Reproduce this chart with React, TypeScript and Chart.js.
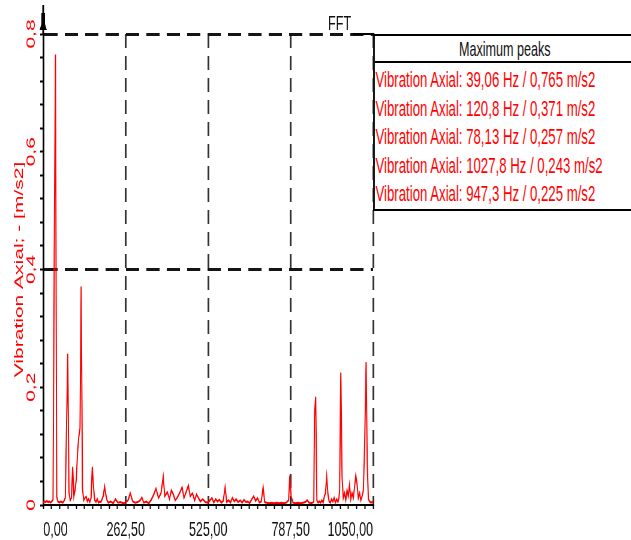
import React, { useEffect, useRef } from 'react';
import { Chart, registerables } from 'chart.js';

Chart.register(...registerables);

// ---- data (Hz, m/s2) ----
const LOW_BAND: [number, number][] = [
  [0, 0.004], [3.9, 0.006], [7.8, 0.005], [11.7, 0.007], [15.6, 0.005], [19.5, 0.006],
  [23.4, 0.004], [27.3, 0.006], [31.3, 0.009], [35.2, 0.425], [39.06, 0.765], [43.0, 0.014],
  [46.9, 0.006], [50.8, 0.004], [54.7, 0.006], [58.6, 0.005], [62.5, 0.004], [66.4, 0.007],
  [70.3, 0.012], [74.2, 0.13], [78.13, 0.257], [82.0, 0.022], [85.9, 0.008], [89.8, 0.012],
  [93.8, 0.065], [97.7, 0.015], [101.6, 0.026], [105.5, 0.045], [109.4, 0.09], [113.3, 0.116],
  [117.2, 0.13], [120.8, 0.371], [125.0, 0.028], [128.9, 0.008], [132.8, 0.012], [136.7, 0.014],
  [140.6, 0.006], [144.5, 0.01], [148.4, 0.005], [152.3, 0.012], [156.3, 0.065], [160.2, 0.03],
  [164.1, 0.008], [168.0, 0.005], [171.9, 0.01], [175.8, 0.004], [179.7, 0.006], [183.6, 0.005],
  [187.5, 0.01], [191.4, 0.016], [195.3, 0.031], [199.2, 0.018],
];

const MID_BAND: [number, number][] = [
  [203.1, 0.008], [207, 0.004], [215, 0.006], [223, 0.003], [230, 0.01], [238, 0.004],
  [246, 0.005], [254, 0.003], [262, 0.004], [270, 0.008], [277, 0.02], [285, 0.006],
  [293, 0.004], [301, 0.005], [309, 0.008], [314, 0.013], [320, 0.004], [328, 0.006],
  [336, 0.003], [344, 0.009], [352, 0.018], [359, 0.028], [367, 0.012], [375, 0.02],
  [382, 0.048], [387, 0.015], [395, 0.022], [402, 0.01], [408, 0.025], [414, 0.018],
  [420, 0.008], [426, 0.012], [434, 0.02], [442, 0.03], [448, 0.012], [455, 0.022],
  [462, 0.033], [468, 0.015], [475, 0.02], [482, 0.008], [488, 0.018], [494, 0.012],
  [500, 0.006], [508, 0.01], [516, 0.005], [525, 0.004], [531, 0.008], [537, 0.012],
  [543, 0.004], [549, 0.01], [555, 0.006], [561, 0.009], [567, 0.004], [573, 0.007],
  [579, 0.03], [584, 0.005], [590, 0.008], [596, 0.004], [602, 0.012], [608, 0.006],
  [614, 0.01], [620, 0.005], [627, 0.008], [633, 0.004], [639, 0.009], [645, 0.005],
  [651, 0.006], [657, 0.003], [664, 0.01], [670, 0.015], [676, 0.007], [682, 0.012],
  [688, 0.004], [694, 0.006], [700, 0.03], [705, 0.005], [711, 0.004], [719, 0.003],
  [727, 0.004], [735, 0.003], [743, 0.004], [750, 0.003], [758, 0.004], [766, 0.003],
  [774, 0.004], [781, 0.008], [785, 0.05], [789, 0.015], [795, 0.004], [803, 0.003],
  [811, 0.004], [819, 0.003], [827, 0.004], [834, 0.005], [840, 0.008], [846, 0.004],
  [852, 0.003], [858, 0.004],
];

const HIGH_BAND: [number, number][] = [
  [861.3, 0.006], [863.3, 0.15], [867.2, 0.184], [871.1, 0.008], [875, 0.004], [879, 0.006],
  [883, 0.004], [887, 0.008], [891, 0.004], [895, 0.015], [898.4, 0.02], [902.3, 0.048],
  [906.3, 0.018], [910.2, 0.006], [914, 0.004], [918, 0.01], [922, 0.006], [926, 0.012],
  [930, 0.004], [934, 0.01], [938, 0.005], [941.4, 0.012], [943.4, 0.025], [947.3, 0.225],
  [951.2, 0.048], [955, 0.012], [959, 0.02], [963, 0.008], [967, 0.025], [971, 0.015],
  [975, 0.034], [979, 0.01], [983, 0.02], [987, 0.012], [991, 0.03], [995, 0.05],
  [999, 0.035], [1003, 0.012], [1007, 0.02], [1011, 0.008], [1015, 0.015], [1019, 0.025],
  [1023.4, 0.107], [1027.8, 0.243], [1031.3, 0.073], [1035, 0.01], [1039, 0.006],
  [1043, 0.004], [1047, 0.005], [1050, 0.004],
];

const PEAK_HZ = [39.06, 120.8, 78.13, 1027.8, 947.3];
const PEAK_AMP = [0.765, 0.371, 0.257, 0.243, 0.225];

const X_LABELED = [0, 262.5, 525, 787.5, 1050];
const Y_LABELED = [0, 0.2, 0.4, 0.6, 0.8];
const Y_DASHED = [0.4, 0.8];
const X_DASHED = [262.5, 525, 787.5, 1050];
const X_MIN = 0;
const X_MAX = 1050;
const X_STEP = 26.25;
const Y_MIN = 0;
const Y_MAX = 0.8;
const Y_STEP = 0.04;

const SERIES_LABEL = 'Vibration Axial';
const Y_TITLE = 'Vibration Axial; - [m/s2]';
const CHART_TITLE = 'FFT';
const LEGEND_TITLE = 'Maximum peaks';

// ---- layout (drawn wide, then squeezed horizontally like the reference) ----
const W = 1052;
const H = 540;
const S = 631 / W;
const PLOT_LEFT = 72;
const PLOT_RIGHT = 622;
const PLOT_TOP = 34;
const PLOT_BOTTOM = 505;
const FONT = '"Liberation Sans", Arial, sans-serif';

const near = (list: number[], v: number, tol: number) => list.some((t) => Math.abs(t - v) < tol);
const comma = (s: string) => s.replace('.', ',');
const fmtHz = (v: number) => comma(v >= 1000 ? v.toFixed(1) : v.toPrecision(4));
const fmtAmp = (v: number) => comma(v.toFixed(3));

const axisMarker = {
  id: 'axisMarker',
  afterDraw(chart: any) {
    const { ctx, chartArea } = chart;
    const x = chartArea.left;
    ctx.save();
    ctx.strokeStyle = '#000';
    ctx.fillStyle = '#000';
    ctx.lineWidth = 3;
    ctx.beginPath();
    ctx.moveTo(x, chartArea.top);
    ctx.lineTo(x, 5);
    ctx.stroke();
    ctx.fillRect(x - 3, 13, 6, 12);
    ctx.beginPath();
    ctx.moveTo(x - 3, 24);
    ctx.lineTo(x + 3, 24);
    ctx.lineTo(x + 6, 30);
    ctx.lineTo(x - 6, 30);
    ctx.closePath();
    ctx.fill();
    ctx.restore();
  },
};

export default function App() {
  const canvasRef = useRef<HTMLCanvasElement | null>(null);

  useEffect(() => {
    if (!canvasRef.current) return;
    const points = [...LOW_BAND, ...MID_BAND, ...HIGH_BAND].map(([x, y]) => ({ x, y }));
    const chart = new Chart(canvasRef.current, {
      type: 'line',
      data: {
        datasets: [
          {
            label: SERIES_LABEL,
            data: points,
            borderColor: '#ff0000',
            borderWidth: 2,
            pointRadius: 0,
            fill: false,
            tension: 0,
          },
        ],
      },
      plugins: [axisMarker],
      options: {
        animation: false,
        responsive: false,
        devicePixelRatio: 1,
        layout: { padding: { left: 0, top: PLOT_TOP, right: W - PLOT_RIGHT, bottom: 0 } },
        plugins: {
          legend: { display: false },
          tooltip: { enabled: false },
          title: { display: false },
        },
        scales: {
          x: {
            type: 'linear',
            min: X_MIN,
            max: X_MAX,
            afterFit: (s: any) => {
              s.height = H - PLOT_BOTTOM;
            },
            ticks: {
              stepSize: X_STEP,
              autoSkip: false,
              minRotation: 0,
              maxRotation: 0,
              align: 'inner',
              padding: 9,
              color: '#111',
              font: { family: FONT, size: 21 },
              callback: (v: any) => (near(X_LABELED, Number(v), 1e-6) ? comma(Number(v).toFixed(2)) : ''),
            },
            grid: {
              color: (c: any) => (near(X_DASHED, c.tick?.value ?? -1, 1e-6) ? '#333' : 'rgba(0,0,0,0)'),
              lineWidth: 3,
              drawTicks: true,
              tickLength: 4,
              tickWidth: 2,
              tickColor: '#000',
              tickBorderDash: [],
            },
            border: { display: true, color: '#000', width: 2, dash: [14, 8] },
          },
          y: {
            type: 'linear',
            min: Y_MIN,
            max: Y_MAX,
            afterFit: (s: any) => {
              s.width = PLOT_LEFT;
            },
            ticks: {
              stepSize: Y_STEP,
              autoSkip: false,
              minRotation: 90,
              maxRotation: 90,
              crossAlign: 'center',
              padding: 0,
              color: '#ff0000',
              font: { family: FONT, size: 21 },
              callback: (v: any) => {
                const n = Number(v);
                if (!near(Y_LABELED, n, 1e-6)) return '';
                return Math.abs(n) < 1e-9 ? '0' : comma(n.toFixed(1));
              },
            },
            grid: {
              color: (c: any) => (near(Y_DASHED, c.tick?.value ?? -1, 1e-6) ? '#151515' : 'rgba(0,0,0,0)'),
              lineWidth: 3,
              drawTicks: true,
              tickLength: 5,
              tickWidth: 2,
              tickColor: '#000',
              tickBorderDash: [],
            },
            border: { display: true, color: '#000', width: 3, dash: [22, 12] },
            title: {
              display: true,
              text: Y_TITLE,
              color: '#ff0000',
              font: { family: FONT, size: 21 },
              padding: { top: 20, bottom: 0 },
            },
          },
        },
      } as any,
    });
    return () => chart.destroy();
  }, []);

  const rows = PEAK_HZ.map((hz, i) => `${SERIES_LABEL}: ${fmtHz(hz)} Hz / ${fmtAmp(PEAK_AMP[i])} m/s2`);

  return (
    <div style={{ position: 'absolute', left: 0, top: 0, width: 631, height: H, overflow: 'hidden', background: '#fff' }}>
      <div
        style={{
          position: 'relative',
          width: W,
          height: H,
          transform: `scaleX(${S})`,
          transformOrigin: '0 0',
        }}
      >
        <canvas ref={canvasRef} width={W} height={H} style={{ display: 'block' }} />
        <div
          style={{
            position: 'absolute',
            left: 547,
            top: 12,
            fontFamily: FONT,
            fontSize: 21,
            lineHeight: '21px',
            color: '#111',
            whiteSpace: 'nowrap',
          }}
        >
          {CHART_TITLE}
        </div>
        <div style={{ position: 'absolute', left: 588, top: 33, width: 36, height: 2, background: '#000' }} />
        <div
          style={{
            position: 'absolute',
            left: PLOT_RIGHT,
            top: PLOT_TOP,
            width: 436,
            height: 177,
            boxSizing: 'border-box',
            borderTop: '2px solid #000',
            borderLeft: '3px solid #000',
            borderBottom: '2px solid #000',
            background: '#fff',
            fontFamily: FONT,
          }}
        >
          <div
            style={{
              height: 25,
              lineHeight: '25px',
              textAlign: 'center',
              fontSize: 21,
              color: '#111',
              borderBottom: '2px solid #000',
              whiteSpace: 'nowrap',
            }}
          >
            {LEGEND_TITLE}
          </div>
          <div style={{ paddingTop: 3, paddingLeft: 1 }}>
            {rows.map((r) => (
              <div key={r} style={{ height: 28.5, lineHeight: '28.5px', fontSize: 22, color: '#ff0000', whiteSpace: 'nowrap' }}>
                {r}
              </div>
            ))}
          </div>
        </div>
      </div>
    </div>
  );
}
